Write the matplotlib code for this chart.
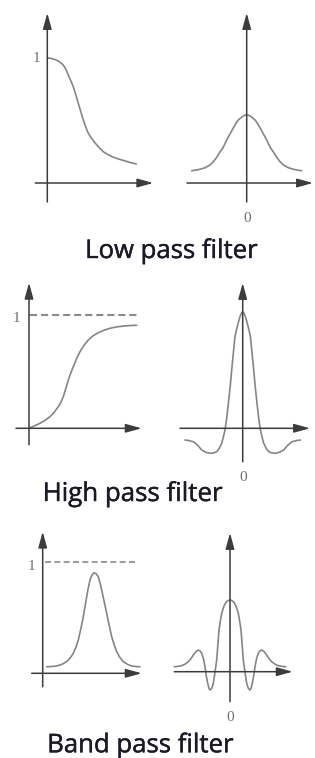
import matplotlib
matplotlib.use("Agg")
import matplotlib.pyplot as plt
import matplotlib.patheffects as pe

W, H = 315, 758
DPI = 100

# ---- curve values (x in arbitrary units, y in gain units, 1 = the "1" level) ----
low_freq_x = [0.0, 0.03, 0.06, 0.09, 0.12, 0.145, 0.16, 0.185, 0.21, 0.235, 0.26, 0.285, 0.31, 0.335, 0.36,
              0.385, 0.41, 0.445, 0.48, 0.52, 0.56, 0.61, 0.66, 0.72, 0.78, 0.835, 0.89]
low_freq_y = [1.0, 0.998, 0.992, 0.984, 0.970, 0.955, 0.944, 0.910, 0.864, 0.818, 0.770, 0.705, 0.638, 0.570,
              0.504, 0.447, 0.398, 0.355, 0.318, 0.282, 0.250, 0.226, 0.206, 0.190, 0.176, 0.163, 0.152]

# symmetric curves: left half up to x = 0, the right half is its mirror image
low_space_x = [-0.55, -0.50, -0.467, -0.417, -0.367, -0.334, -0.30, -0.27, -0.24, -0.22, -0.20, -0.18, -0.16,
               -0.14, -0.117, -0.10, -0.084, -0.065, -0.05, -0.034, -0.017, 0.0]
low_space_y = [0.098, 0.104, 0.110, 0.122, 0.144, 0.170, 0.205, 0.245, 0.278, 0.310, 0.344, 0.373, 0.402,
               0.432, 0.464, 0.486, 0.504, 0.518, 0.526, 0.536, 0.542, 0.544]

high_freq_x = [0.0, 0.05, 0.11, 0.16, 0.21, 0.25, 0.293, 0.32, 0.343, 0.368, 0.393, 0.418, 0.443, 0.475, 0.51,
               0.55, 0.593, 0.64, 0.693, 0.75, 0.81, 0.875, 0.943, 1.01, 1.077]
high_freq_y = [0.0, 0.020, 0.044, 0.070, 0.103, 0.140, 0.191, 0.232, 0.280, 0.352, 0.427, 0.490, 0.545, 0.615,
               0.678, 0.735, 0.781, 0.818, 0.846, 0.868, 0.885, 0.897, 0.905, 0.909, 0.912]

high_space_x = [-0.577, -0.54, -0.493, -0.45, -0.41, -0.37, -0.327, -0.29, -0.26, -0.235, -0.21, -0.19, -0.177,
                -0.16, -0.143, -0.125, -0.11, -0.093, -0.077, -0.063, -0.05, -0.038, -0.027, -0.013, 0.0]
high_space_y = [-0.104, -0.108, -0.119, -0.150, -0.192, -0.212, -0.221, -0.218, -0.207, -0.178, -0.133, -0.065,
                -0.015, 0.090, 0.221, 0.370, 0.516, 0.670, 0.811, 0.870, 0.914, 0.955, 0.988, 1.018, 1.032]

band_freq_x = [0.04, 0.09, 0.14, 0.19, 0.24, 0.275, 0.306, 0.332, 0.356, 0.381, 0.406, 0.423, 0.44, 0.457, 0.473,
               0.493, 0.513, 0.533, 0.556, 0.573, 0.59, 0.615, 0.64, 0.665, 0.69, 0.715, 0.74, 0.77, 0.806, 0.85,
               0.89, 0.935, 0.973]
band_freq_y = [0.059, 0.061, 0.066, 0.080, 0.105, 0.138, 0.180, 0.235, 0.300, 0.400, 0.510, 0.600, 0.690, 0.775,
               0.841, 0.885, 0.906, 0.897, 0.870, 0.815, 0.750, 0.645, 0.541, 0.430, 0.330, 0.255, 0.195, 0.145,
               0.105, 0.080, 0.066, 0.061, 0.059]

band_space_x = [-0.557, -0.52, -0.483, -0.45, -0.417, -0.39, -0.367, -0.34, -0.317, -0.30, -0.283, -0.265, -0.25,
                -0.237, -0.223, -0.21, -0.2, -0.183, -0.167, -0.15, -0.133, -0.12, -0.11, -0.095, -0.083, -0.063,
                -0.043, -0.02, 0.0]
band_space_y = [0.045, 0.048, 0.054, 0.068, 0.090, 0.118, 0.150, 0.182, 0.195, 0.188, 0.166, 0.115, 0.045,
                -0.035, -0.105, -0.150, -0.165, -0.150, -0.105, -0.005, 0.105, 0.260, 0.376, 0.465, 0.526, 0.585,
                0.622, 0.641, 0.646]

titles = ["Low pass filter", "High pass filter", "Band pass filter"]

AXIS_C = "#3c3c3c"
CURVE_C = "#858585"
LABEL_C = "#707070"
TITLE_C = "#1a1a26"


def mirror(xs, ys):
    return xs + [-v for v in reversed(xs[:-1])], ys + list(reversed(ys[:-1]))


fig = plt.figure(figsize=(W / DPI, H / DPI), dpi=DPI)
fig.patch.set_facecolor("white")


def panel(ox, oy, sy, sx=100.0):
    # transparent axes over the whole figure, origin at pixel (ox, oy) from top-left
    ax = fig.add_axes([0, 0, 1, 1])
    ax.set_xlim(-ox / sx, (W - ox) / sx)
    ax.set_ylim(-(H - oy) / sy, oy / sy)
    ax.axis("off")
    ax.patch.set_alpha(0)
    return ax


def arrows(ax, xr, yr):
    style = dict(arrowstyle="-|>,head_length=1.2,head_width=0.33", color=AXIS_C,
                 lw=1.1, shrinkA=0, shrinkB=0, mutation_scale=8)
    ax.annotate("", xy=(xr[1], 0), xytext=(xr[0], 0), arrowprops=style)
    ax.annotate("", xy=(0, yr[1]), xytext=(0, yr[0]), arrowprops=style)


def digit(ax, x, y, s):
    ax.text(x, y, s, family="Liberation Serif", fontsize=11, color=LABEL_C,
            ha="center", va="center")


def curve(ax, xs, ys):
    ax.plot(xs, ys, color=CURVE_C, lw=1.2, solid_joinstyle="round", solid_capstyle="round")


# row 1
ax1 = panel(47.3, 183, 125)
arrows(ax1, (-0.12, 1.06), (-0.152, 1.36))
curve(ax1, low_freq_x, low_freq_y)
digit(ax1, -0.11, 1.0, "1")

ax2 = panel(246.7, 183, 125)
arrows(ax2, (-0.597, 0.663), (-0.152, 1.36))
curve(ax2, *mirror(low_space_x, low_space_y))
digit(ax2, 0.0, -0.28, "0")

# row 2
ax3 = panel(29, 428.3, 113)
arrows(ax3, (-0.13, 1.127), (-0.147, 1.288))
curve(ax3, high_freq_x, high_freq_y)
ax3.plot([0.01, 1.077], [1, 1], color="#8a8a8a", lw=1.5, ls=(0, (3.4, 1.9)))
digit(ax3, -0.13, 0.97, "1")

ax4 = panel(242.7, 428.3, 113)
arrows(ax4, (-0.627, 0.673), (-0.296, 1.286))
curve(ax4, *mirror(high_space_x, high_space_y))
digit(ax4, 0.0, -0.431, "0")

# row 3
ax5 = panel(42.7, 673.3, 111)
arrows(ax5, (-0.11, 0.99), (-0.121, 1.276))
curve(ax5, band_freq_x, band_freq_y)
ax5.plot([0.023, 0.94], [1, 1], color="#8a8a8a", lw=1.2, ls=(0, (3.6, 2.0)))
digit(ax5, -0.11, 0.958, "1")

ax6 = panel(230, 671.7, 111)
arrows(ax6, (-0.557, 0.627), (-0.27, 1.25))
curve(ax6, *mirror(band_space_x, band_space_y))
digit(ax6, 0.0, -0.417, "0")

# titles: centre x, baseline y, target width (pixels)
title_pos = [(171.5, 258, 173), (132.7, 501, 180), (140.3, 752.3, 187)]
renderer = fig.canvas.get_renderer()
for s, (cx, by, tw) in zip(titles, title_pos):
    t = fig.text(cx / W, 1 - by / H, s, family="Open Sans", fontsize=14,
                 color=TITLE_C, ha="center", va="baseline")
    w = t.get_window_extent(renderer).width
    t.set_fontsize(14 * tw / w)
    t.set_path_effects([pe.withStroke(linewidth=0.3, foreground=TITLE_C)])

fig.savefig("out.png", dpi=DPI, facecolor="white")
